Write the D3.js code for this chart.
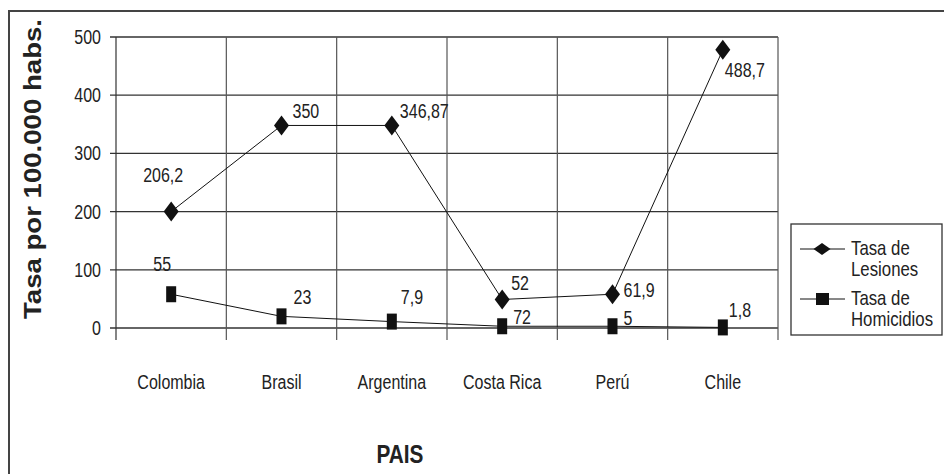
<!DOCTYPE html>
<html>
<head>
<meta charset="utf-8">
<script src="https://cdn.jsdelivr.net/npm/d3@7"></script>
<style>
  body { margin: 0; background: #fff; }
  text { font-family: "Liberation Sans", Arial, sans-serif; fill: #222; }
</style>
</head>
<body>
<div id="chart"></div>
<script>
var paises = ['Colombia', 'Brasil', 'Argentina', 'Costa Rica', 'Perú', 'Chile'];
var lesiones = [200, 348, 348, 49, 58, 478];
var lesiones_labels = ['206,2', '350', '346,87', '52', '61,9', '488,7'];
var homicidios = [58, 20, 11, 3, 3, 1];
var homicidios_labels = ['55', '23', '7,9', '72', '5', '1,8'];
var y_ticks = [0, 100, 200, 300, 400, 500];

// label placement relative to the marker (dx, dy to baseline)
var lesiones_offsets = [[-8, -30], [11, -7], [8, -7], [9, -9], [11, 3], [2, 27]];
var homicidios_offsets = [[-9, -23], [12, -12], [9, -18], [11, -2], [11, -1], [6, -10]];

draw_chart();

function narrow(sel, k) {
    // the original uses a condensed face; squeeze glyphs horizontally
    k = k || 0.8;
    sel.each(function() {
        var t = d3.select(this);
        var tx = +t.attr('x'), ty = +t.attr('y');
        t.attr('x', 0)
            .attr('y', 0)
            .attr('transform', 'translate(' + tx + ',' + ty + ') scale(' + k + ',1)');
    });
}

function draw_chart() {
    var width = 944;
    var height = 474;
    var m_left = 116, m_right = 778, m_top = 37, m_bottom = 328;

    var svg = d3.select('#chart')
        .append('svg')
        .attr('width', width)
        .attr('height', height);

    // outer frame (top and left only visible)
    svg.append('path')
        .attr('d', 'M9,' + height + 'V11H' + width)
        .attr('fill', 'none')
        .attr('stroke', '#444')
        .attr('stroke-width', 2);

    var x = d3.scaleBand()
        .domain(paises)
        .range([m_left, m_right]);

    var y = d3.scaleLinear()
        .domain([0, 500])
        .range([m_bottom, m_top]);

    // horizontal gridlines
    svg.selectAll('line.hgrid')
        .data(y_ticks)
        .enter()
        .append('line')
        .attr('class', 'hgrid')
        .attr('x1', m_left - 6)
        .attr('x2', m_right)
        .attr('y1', function(d) { return y(d); })
        .attr('y2', function(d) { return y(d); })
        .attr('stroke', '#333')
        .attr('stroke-width', 1.3);

    // vertical gridlines at category boundaries
    var bounds = paises.map(function(d) { return x(d); }).concat([m_right]);
    svg.selectAll('line.vgrid')
        .data(bounds)
        .enter()
        .append('line')
        .attr('class', 'vgrid')
        .attr('x1', function(d) { return d; })
        .attr('x2', function(d) { return d; })
        .attr('y1', m_top)
        .attr('y2', m_bottom + 12)
        .attr('stroke', function(d, i) { return i === 0 ? '#333' : '#555'; })
        .attr('stroke-width', 1.2);

    // y tick labels
    svg.selectAll('text.ytick')
        .data(y_ticks)
        .enter()
        .append('text')
        .attr('class', 'ytick')
        .attr('x', m_left - 15)
        .attr('y', function(d) { return y(d) + 7; })
        .attr('text-anchor', 'end')
        .attr('font-size', '20px')
        .text(function(d) { return d; })
        .call(narrow);

    // category labels
    svg.selectAll('text.xtick')
        .data(paises)
        .enter()
        .append('text')
        .attr('class', 'xtick')
        .attr('x', function(d) { return x(d) + x.bandwidth() / 2; })
        .attr('y', 389)
        .attr('text-anchor', 'middle')
        .attr('font-size', '20px')
        .text(function(d) { return d; })
        .call(narrow);

    // axis titles
    svg.append('text')
        .attr('transform', 'translate(41,169) rotate(-90)')
        .attr('text-anchor', 'middle')
        .attr('font-size', '23px')
        .attr('font-weight', 'bold')
        .attr('textLength', 300)
        .attr('lengthAdjust', 'spacingAndGlyphs')
        .text('Tasa por 100.000 habs.');

    svg.append('text')
        .attr('x', 400)
        .attr('y', 463)
        .attr('text-anchor', 'middle')
        .attr('font-size', '26px')
        .attr('font-weight', 'bold')
        .text('PAIS')
        .call(narrow);

    var cx = function(d, i) { return x(paises[i]) + x.bandwidth() / 2; };

    var line = d3.line()
        .x(function(d, i) { return cx(d, i); })
        .y(function(d) { return y(d); });

    svg.append('path')
        .datum(lesiones)
        .attr('d', line)
        .attr('fill', 'none')
        .attr('stroke', '#111')
        .attr('stroke-width', 1);

    svg.append('path')
        .datum(homicidios)
        .attr('d', line)
        .attr('fill', 'none')
        .attr('stroke', '#111')
        .attr('stroke-width', 1);

    // diamonds
    svg.selectAll('path.diamond')
        .data(lesiones)
        .enter()
        .append('path')
        .attr('class', 'diamond')
        .attr('d', 'M0,-10L7.5,0L0,10L-7.5,0Z')
        .attr('transform', function(d, i) { return 'translate(' + cx(d, i) + ',' + y(d) + ')'; })
        .attr('fill', '#111');

    // squares
    svg.selectAll('rect.square')
        .data(homicidios)
        .enter()
        .append('rect')
        .attr('class', 'square')
        .attr('x', function(d, i) { return cx(d, i) - 5; })
        .attr('y', function(d) { return y(d) - 8; })
        .attr('width', 10)
        .attr('height', 16)
        .attr('fill', '#111');

    // value labels
    svg.selectAll('text.lab_les')
        .data(lesiones)
        .enter()
        .append('text')
        .attr('class', 'lab_les')
        .attr('x', function(d, i) { return cx(d, i) + lesiones_offsets[i][0]; })
        .attr('y', function(d, i) { return y(d) + lesiones_offsets[i][1]; })
        .attr('font-size', '20px')
        .attr('text-anchor', function(d, i) { return i === 0 ? 'middle' : 'start'; })
        .text(function(d, i) { return lesiones_labels[i]; })
        .call(narrow);

    svg.selectAll('text.lab_hom')
        .data(homicidios)
        .enter()
        .append('text')
        .attr('class', 'lab_hom')
        .attr('x', function(d, i) { return cx(d, i) + homicidios_offsets[i][0]; })
        .attr('y', function(d, i) { return y(d) + homicidios_offsets[i][1]; })
        .attr('font-size', '20px')
        .attr('text-anchor', function(d, i) { return i === 0 ? 'middle' : 'start'; })
        .text(function(d, i) { return homicidios_labels[i]; })
        .call(narrow);

    // legend
    var legend = svg.append('g').attr('transform', 'translate(791,224)');
    legend.append('rect')
        .attr('width', 151)
        .attr('height', 111)
        .attr('fill', '#fff')
        .attr('stroke', '#333')
        .attr('stroke-width', 1.3);

    var legend_items = [
        {lines: ['Tasa de', 'Lesiones'], shape: 'diamond'},
        {lines: ['Tasa de', 'Homicidios'], shape: 'square'}
    ];

    legend_items.forEach(function(item, i) {
        var gy = 25 + i * 50;
        legend.append('line')
            .attr('x1', 9).attr('x2', 54)
            .attr('y1', gy).attr('y2', gy)
            .attr('stroke', '#111');
        if (item.shape === 'diamond') {
            legend.append('path')
                .attr('d', 'M0,-6L8.5,0L0,6L-8.5,0Z')
                .attr('transform', 'translate(31,' + gy + ')')
                .attr('fill', '#111');
        } else {
            legend.append('rect')
                .attr('x', 25).attr('y', gy - 6)
                .attr('width', 13).attr('height', 12)
                .attr('fill', '#111');
        }
        item.lines.forEach(function(t, j) {
            legend.append('text')
                .attr('x', 60)
                .attr('y', gy + 6 + j * 21)
                .attr('font-size', '20px')
                .text(t)
                .call(narrow, 0.84);
        });
    });
}
</script>
</body>
</html>
